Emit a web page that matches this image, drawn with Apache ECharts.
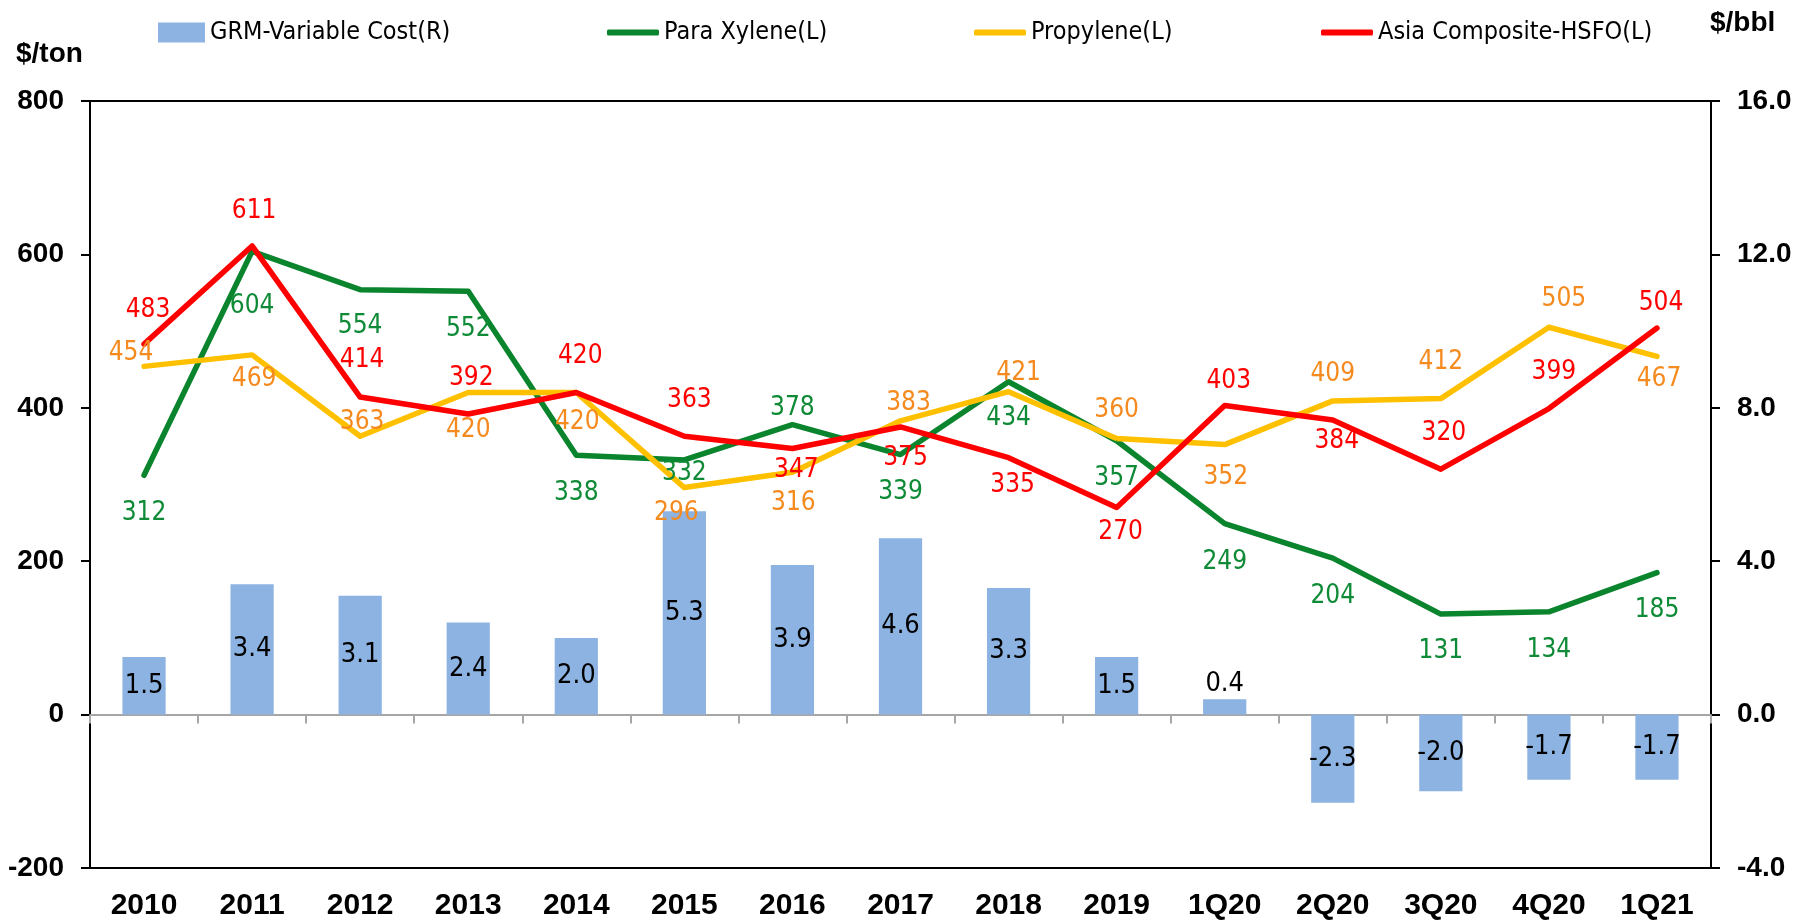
<!DOCTYPE html>
<html>
<head>
<meta charset="utf-8">
<script src="https://cdn.jsdelivr.net/npm/echarts@6/dist/echarts.min.js"></script>
<style>
  html, body { margin: 0; padding: 0; background: #fff; }
  #main { width: 1812px; height: 921px; }
</style>
</head>
<body>
<div id="main"></div>
<script>
  // categories and values
  var categories = ['2010', '2011', '2012', '2013', '2014', '2015', '2016', '2017', '2018', '2019', '1Q20', '2Q20', '3Q20', '4Q20', '1Q21'];
  var grmVariableCost = [1.5, 3.4, 3.1, 2.4, 2.0, 5.3, 3.9, 4.6, 3.3, 1.5, 0.4, -2.3, -2.0, -1.7, -1.7];
  var paraXylene = [312, 604, 554, 552, 338, 332, 378, 339, 434, 357, 249, 204, 131, 134, 185];
  var propylene = [454, 469, 363, 420, 420, 296, 316, 383, 421, 360, 352, 409, 412, 505, 467];
  var asiaHsfo = [483, 611, 414, 392, 420, 363, 347, 375, 335, 270, 403, 384, 320, 399, 504];
  var leftTicks = { min: -200, max: 800, interval: 200 };
  var rightTicks = { min: -4, max: 16, interval: 4 };

  // where each data label sits relative to its point (px), like the excel layout
  var pxLabelOffset = [[0, 38], [0, 55], [0, 37], [0, 38], [0, 38], [0, 13], [0, -16], [0, 38], [0, 37], [0, 37], [0, 39], [0, 38], [0, 37], [0, 38], [0, 38]];
  var propyleneLabelOffset = [[-13, -13], [2, 24], [2, -14], [0, 38], [1, 30], [-8, 26], [1, 31], [8, -18], [10, -18], [0, -28], [1, 33], [0, -27], [0, -36], [15, -28], [2, 23]];
  var hsfoLabelOffset = [[4, -34], [2, -35], [2, -37], [3, -36], [4, -36], [5, -36], [4, 22], [5, 31], [4, 28], [4, 25], [4, -24], [4, 21], [3, -36], [5, -36], [4, -25]];
  var barLabelPos = ['inside', 'inside', 'inside', 'inside', 'inside', 'inside', 'inside', 'inside', 'inside', 'inside', 'top', 'inside', 'inside', 'inside', 'inside'];

  var narrow = "'Liberation Sans Narrow', 'Arial Narrow', 'DejaVu Sans Condensed', sans-serif";
  var bold = "'Liberation Sans', Arial, sans-serif";

  function withOffsets(values, offsets) {
    return values.map(function (v, i) {
      return { value: v, label: { offset: offsets[i] } };
    });
  }

  function lineSeries(name, values, offsets, lineColor, labelColor) {
    return {
      name: name,
      type: 'line',
      yAxisIndex: 0,
      // tiny symbol hidden under the line, so the labels still get drawn
      symbol: 'circle',
      symbolSize: 1,
      showSymbol: true,
      data: withOffsets(values, offsets),
      lineStyle: { color: lineColor, width: 5.5, cap: 'round', join: 'round' },
      itemStyle: { color: lineColor },
      label: {
        show: true,
        position: 'inside',
        color: labelColor,
        fontFamily: narrow,
        fontSize: 26
      },
      z: 3
    };
  }

  function legendItem(name, left, icon, w, h) {
    return {
      data: [name],
      left: left,
      top: 20,
      padding: 0,
      icon: icon,
      itemWidth: w,
      itemHeight: h,
      itemGap: 5,
      selectedMode: false,
      textStyle: { fontFamily: narrow, fontSize: 25, color: '#000' }
    };
  }

  var myChart = echarts.init(document.getElementById('main'));
  var option = {
    animation: false,
    backgroundColor: '#fff',
    grid: {
      left: 90, right: 101, top: 101, bottom: 53,
      show: true,
      borderColor: '#000',
      borderWidth: 2
    },
    legend: [
      legendItem('GRM-Variable Cost(R)', 158, 'rect', 47, 20),
      legendItem('Para Xylene(L)', 607, 'roundRect', 52, 6),
      legendItem('Propylene(L)', 974, 'roundRect', 52, 6),
      legendItem('Asia Composite-HSFO(L)', 1321, 'roundRect', 52, 6)
    ],
    graphic: [
      { type: 'text', left: 16, top: 40, style: { text: '$/ton', font: 'bold 28px ' + bold, fill: '#000' } },
      { type: 'text', left: 1710, top: 9, style: { text: '$/bbl', font: 'bold 28px ' + bold, fill: '#000' } }
    ],
    xAxis: [
      {
        type: 'category',
        data: categories,
        position: 'bottom',
        axisLine: { onZero: false, lineStyle: { color: '#000', width: 2 } },
        axisTick: { show: false },
        axisLabel: { color: '#000', fontFamily: bold, fontWeight: 'bold', fontSize: 30, margin: 23 }
      },
      {
        // the grey zero line with its small ticks between categories
        type: 'category',
        data: categories,
        position: 'top',
        axisLine: { onZero: true, lineStyle: { color: '#a6a6a6', width: 2 } },
        axisTick: { show: true, inside: true, length: 9, lineStyle: { color: '#a6a6a6', width: 2 } },
        axisLabel: { show: false }
      }
    ],
    yAxis: [
      {
        type: 'value',
        min: leftTicks.min,
        max: leftTicks.max,
        interval: leftTicks.interval,
        axisLine: { show: true, onZero: false, lineStyle: { color: '#000', width: 2 } },
        axisTick: { show: true, length: 9, lineStyle: { color: '#000', width: 2 } },
        axisLabel: { color: '#000', fontFamily: bold, fontWeight: 'bold', fontSize: 28, margin: 26 },
        splitLine: { show: false }
      },
      {
        type: 'value',
        min: rightTicks.min,
        max: rightTicks.max,
        interval: rightTicks.interval,
        position: 'right',
        axisLine: { show: true, onZero: false, lineStyle: { color: '#000', width: 2 } },
        axisTick: { show: true, length: 9, lineStyle: { color: '#000', width: 2 } },
        axisLabel: {
          color: '#000', fontFamily: bold, fontWeight: 'bold', fontSize: 28, margin: 26,
          formatter: function (v) { return v.toFixed(1); }
        },
        splitLine: { show: false }
      }
    ],
    series: []
  };

  option.series.push({
    name: 'GRM-Variable Cost(R)',
    type: 'bar',
    yAxisIndex: 1,
    barWidth: '40%',
    data: grmVariableCost.map(function (v, i) {
      return { value: v, label: { position: barLabelPos[i] } };
    }),
    itemStyle: { color: '#8db3e2' },
    label: {
      show: true,
      color: '#000',
      fontFamily: narrow,
      fontSize: 27,
      distance: 2,
      formatter: function (p) { return p.value.toFixed(1); }
    },
    z: 1
  });
  option.series.push(lineSeries('Para Xylene(L)', paraXylene, pxLabelOffset, '#0a842d', '#0f8a36'));
  option.series.push(lineSeries('Propylene(L)', propylene, propyleneLabelOffset, '#ffc000', '#f58a1f'));
  option.series.push(lineSeries('Asia Composite-HSFO(L)', asiaHsfo, hsfoLabelOffset, '#ff0000', '#ff0000'));

  myChart.setOption(option, true);
</script>
</body>
</html>
